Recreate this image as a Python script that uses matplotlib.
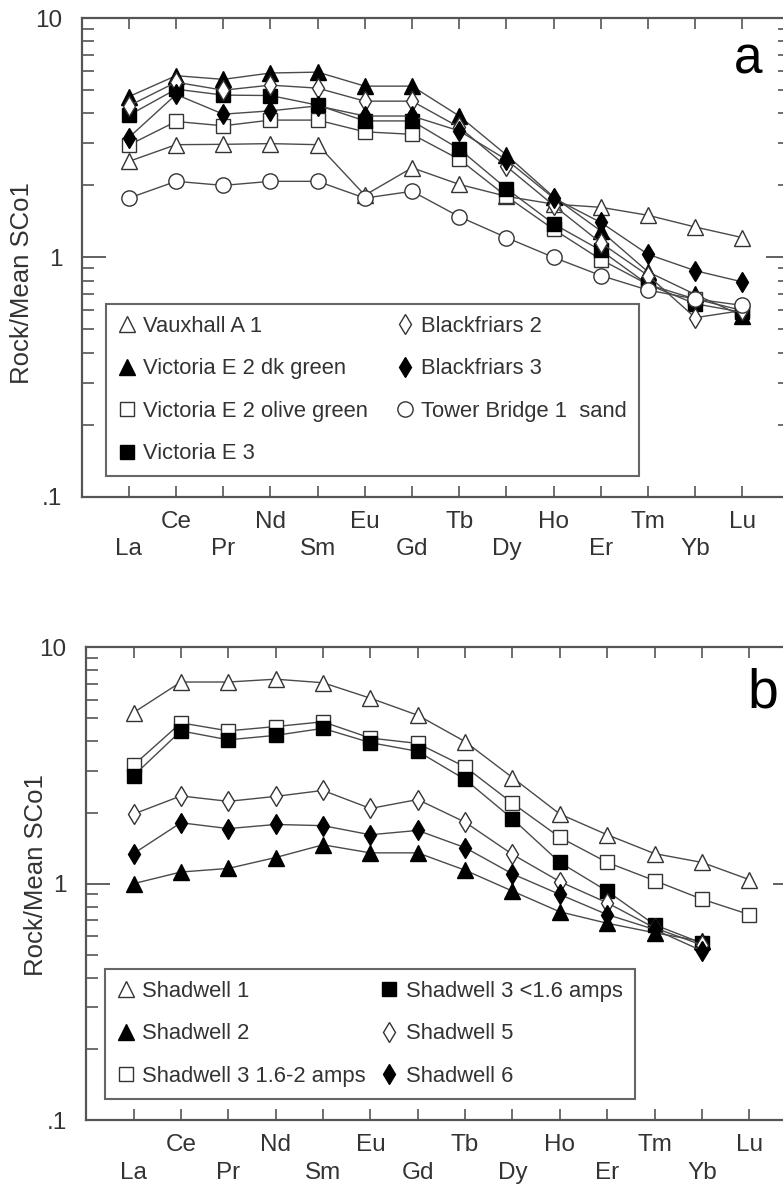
import matplotlib
matplotlib.use("Agg")
import matplotlib.pyplot as plt
import numpy as np
from matplotlib.lines import Line2D
from matplotlib.ticker import FixedLocator, NullFormatter

plt.rcParams["font.family"] = ["Liberation Sans", "DejaVu Sans"]

NAN = np.nan

ELEMENTS = ["La", "Ce", "Pr", "Nd", "Sm", "Eu", "Gd", "Tb", "Dy", "Ho", "Er", "Tm", "Yb", "Lu"]

# panel a - Thames samples, normalised to mean SCo1
VAUXHALL_A1 = [2.52, 2.96, 2.97, 2.99, 2.96, 1.82, 2.37, 2.02, 1.80, 1.67, 1.62, 1.50, 1.34, 1.21]
VICTORIA_E2_DK = [4.70, 5.75, 5.55, 5.90, 5.95, 5.20, 5.20, 3.90, 2.68, 1.79, 1.29, 0.87, 0.70, 0.57]
VICTORIA_E2_OLIVE = [2.95, 3.70, 3.55, 3.75, 3.75, 3.35, 3.27, 2.57, 1.80, 1.31, 0.98, 0.77, 0.67, 0.60]
VICTORIA_E3 = [3.93, 5.05, 4.77, 4.75, 4.33, 3.72, 3.72, 2.84, 1.94, 1.38, 1.07, 0.77, 0.64, 0.59]
BLACKFRIARS_2 = [4.30, 5.40, 5.00, 5.25, 5.10, 4.50, 4.50, 3.50, 2.40, 1.65, 1.15, 0.84, 0.56, 0.60]
BLACKFRIARS_3 = [3.17, 4.80, 3.97, 4.10, 4.30, 3.90, 3.90, 3.38, 2.56, 1.77, 1.40, 1.03, 0.88, 0.79]
TOWER_BRIDGE_1 = [1.77, 2.08, 2.00, 2.08, 2.08, 1.77, 1.89, 1.48, 1.21, 1.00, 0.84, 0.73, 0.67, 0.63]

# panel b - Shadwell samples
SHADWELL_1 = [5.29, 7.13, 7.13, 7.33, 7.08, 6.09, 5.16, 3.99, 2.81, 1.97, 1.61, 1.34, 1.23, 1.04]
SHADWELL_2 = [1.00, 1.12, 1.16, 1.29, 1.46, 1.35, 1.35, 1.14, 0.93, 0.76, 0.68, 0.62, 0.57, NAN]
SHADWELL_3_HI = [3.17, 4.79, 4.43, 4.62, 4.84, 4.13, 3.92, 3.12, 2.19, 1.57, 1.23, 1.03, 0.86, 0.74]
SHADWELL_3_LO = [2.86, 4.43, 4.06, 4.24, 4.54, 3.95, 3.63, 2.76, 1.88, 1.23, 0.93, 0.67, 0.56, NAN]
SHADWELL_5 = [1.97, 2.35, 2.23, 2.34, 2.48, 2.08, 2.27, 1.82, 1.33, 1.02, 0.83, 0.65, 0.55, NAN]
SHADWELL_6 = [1.34, 1.81, 1.71, 1.78, 1.76, 1.61, 1.68, 1.42, 1.10, 0.90, 0.74, 0.64, 0.52, NAN]

MARKERS = {
    "open_tri": dict(marker="^", mfc="white", mec="#333333", ms=11),
    "fill_tri": dict(marker="^", mfc="black", mec="black", ms=11),
    "open_sq": dict(marker="s", mfc="white", mec="#333333", ms=10.5),
    "fill_sq": dict(marker="s", mfc="black", mec="black", ms=10.5),
    "open_dia": dict(marker="d", mfc="white", mec="#333333", ms=10.5),
    "fill_dia": dict(marker="d", mfc="black", mec="black", ms=10.5),
    "open_circ": dict(marker="o", mfc="white", mec="#333333", ms=11),
}

SERIES_A = [
    ("Vauxhall A 1", VAUXHALL_A1, "open_tri"),
    ("Victoria E 2 dk green", VICTORIA_E2_DK, "fill_tri"),
    ("Victoria E 2 olive green", VICTORIA_E2_OLIVE, "open_sq"),
    ("Victoria E 3", VICTORIA_E3, "fill_sq"),
    ("Blackfriars 2", BLACKFRIARS_2, "open_dia"),
    ("Blackfriars 3", BLACKFRIARS_3, "fill_dia"),
    ("Tower Bridge 1  sand", TOWER_BRIDGE_1, "open_circ"),
]

SERIES_B = [
    ("Shadwell 1", SHADWELL_1, "open_tri"),
    ("Shadwell 2", SHADWELL_2, "fill_tri"),
    ("Shadwell 3 1.6-2 amps", SHADWELL_3_HI, "open_sq"),
    ("Shadwell 3 <1.6 amps", SHADWELL_3_LO, "fill_sq"),
    ("Shadwell 5", SHADWELL_5, "open_dia"),
    ("Shadwell 6", SHADWELL_6, "fill_dia"),
]

TEXT = "#333333"
AXC = "#555555"


def draw_panel(ax, series, tag, tag_xy, tag_size, leg_anchor, colspace):
    x = np.arange(len(ELEMENTS))
    handles = []
    for label, vals, key in series:
        st = MARKERS[key]
        ax.plot(x, vals, color="#4a4a4a", lw=1.0, mew=1.0, **st)
        handles.append(Line2D([], [], ls="none", mew=1.0, label=label, **st))

    ax.set_yscale("log")
    ax.set_ylim(0.1, 10)
    ax.set_xlim(-1, 14)

    ax.yaxis.set_major_locator(FixedLocator([0.1, 1, 10]))
    ax.set_yticklabels([".1", "1", "10"])
    ax.yaxis.set_minor_locator(FixedLocator(
        [m * d for d in (0.1, 1) for m in range(2, 10)]))
    ax.yaxis.set_minor_formatter(NullFormatter())

    # alternate element names onto two rows
    ax.set_xticks(x)
    ax.set_xticklabels([e if i % 2 else "\n" + e for i, e in enumerate(ELEMENTS)])
    for lbl in ax.get_xticklabels():
        lbl.set_linespacing(1.35)

    ax.tick_params(axis="x", which="major", direction="in", top=True, bottom=True,
                   length=8, width=1.2, color=AXC, labelsize=17.5, labelcolor=TEXT, pad=10)
    ax.tick_params(axis="y", which="major", direction="in", left=True, right=True,
                   length=17, width=1.3, color=AXC, labelsize=17.5, labelcolor=TEXT, pad=14)
    ax.tick_params(axis="y", which="minor", direction="in", left=True, right=True,
                   length=8.5, width=1.2, color=AXC)
    for sp in ax.spines.values():
        sp.set_color(AXC)
        sp.set_linewidth(1.6)

    ax.set_ylabel("Rock/Mean SCo1", fontsize=18.5, color=TEXT)

    ax.text(tag_xy[0], tag_xy[1], tag, fontsize=tag_size, ha="center", va="baseline",
            color="black")

    leg = ax.legend(handles=handles, ncol=2, loc="upper left",
                    bbox_to_anchor=leg_anchor, bbox_transform=ax.transData,
                    borderaxespad=0, fontsize=15.8, frameon=True, fancybox=False,
                    framealpha=1, edgecolor="#666666", handlelength=0.8,
                    handletextpad=0.35, borderpad=0.55, labelspacing=0.98,
                    columnspacing=colspace)
    leg.get_frame().set_linewidth(1.5)
    for t in leg.get_texts():
        t.set_color(TEXT)


fig = plt.figure(figsize=(7.83, 11.89), dpi=100)
ax_a = fig.add_axes([0.1043, 0.5823, 0.9042, 0.4024])
ax_b = fig.add_axes([0.1100, 0.0580, 0.9075, 0.3976])

draw_panel(ax_a, SERIES_A, "a", (13.11, 5.85), 37, (-0.487, 0.64), 1.28)
draw_panel(ax_b, SERIES_B, "b", (13.28, 5.57), 40, (-0.60, 0.437), 0.67)

ax_a.yaxis.set_label_coords(-0.068, 0.447)
ax_b.yaxis.set_label_coords(-0.054, 0.518)

fig.savefig("out.png", dpi=100)
